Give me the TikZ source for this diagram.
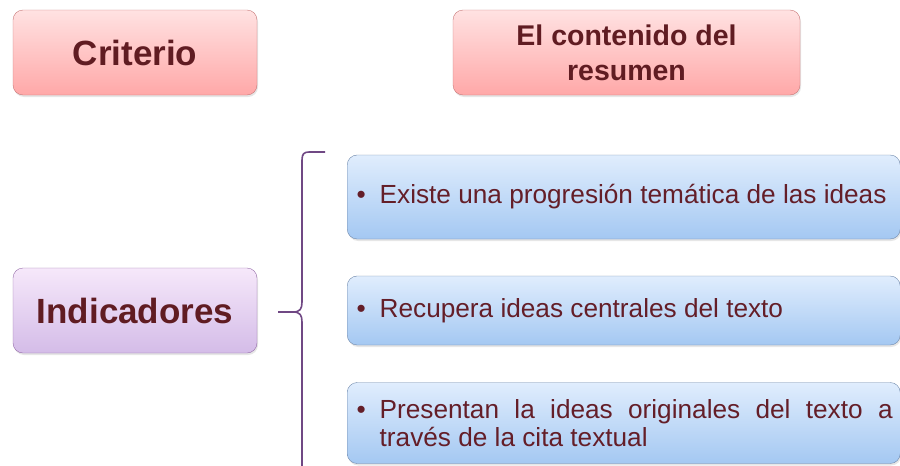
\documentclass[tikz,border=0pt]{standalone}
\usepackage{fontspec}
\setmainfont{Liberation Sans}
\usepackage{xcolor}
\usepackage{tikz}
\usetikzlibrary{shadows}
\definecolor{titletext}{RGB}{96,28,34}
\definecolor{bodytext}{RGB}{100,30,40}
\definecolor{pinktop}{RGB}{255,226,226}
\definecolor{pinkbottom}{RGB}{255,168,168}
\definecolor{pinkedge}{RGB}{200,120,120}
\definecolor{purpletop}{RGB}{246,232,250}
\definecolor{purplebottom}{RGB}{212,188,232}
\definecolor{purpleedge}{RGB}{150,110,170}
\definecolor{bluetop}{RGB}{224,237,253}
\definecolor{bluebottom}{RGB}{164,200,242}
\definecolor{blueedge}{RGB}{110,135,170}
\definecolor{bracecolor}{RGB}{112,72,132}
\tikzstyle{titlebox} = [rectangle, rounded corners=10pt, minimum width=244pt, minimum height=85pt, text centered, text=titletext, drop shadow={opacity=0.2, shadow xshift=1pt, shadow yshift=-2pt}]
\tikzstyle{criteriobox} = [titlebox, draw=pinkedge, top color=pinktop, bottom color=pinkbottom]
\tikzstyle{indicadorbox} = [titlebox, draw=purpleedge, top color=purpletop, bottom color=purplebottom]
\tikzstyle{itembox} = [rectangle, rounded corners=10pt, inner xsep=7.5pt, anchor=west, draw=blueedge, top color=bluetop, bottom color=bluebottom, text=bodytext, font=\fontsize{26.2}{28.5}\selectfont, drop shadow={opacity=0.2, shadow xshift=1pt, shadow yshift=-2pt}]
\tikzstyle{brace} = [line width=1.6pt, draw=bracecolor]
\newcommand{\bulletline}[1]{\makebox[25pt][l]{\hspace{2pt}\textbullet}\parbox[t]{513pt}{#1}}

\begin{document}
\begin{tikzpicture}[x=1pt, y=-1pt]
		\useasboundingbox (0,0) rectangle (900,466);
		\clip (0,0) rectangle (900,466);
		
		% Header nodes
		\node (criterio) [criteriobox, font=\fontsize{35}{42}\selectfont\bfseries] at (135,52.5) {Criterio};
		\node (contenido) [criteriobox, minimum width=347pt, align=center, font=\fontsize{28.5}{35}\selectfont\bfseries] at (626.5,52.5) {El contenido del\\resumen};
		
		% Indicator node
		\node (indicadores) [indicadorbox, font=\fontsize{35}{42}\selectfont\bfseries] at (135,310.5) {Indicadores};
		
		% Item nodes
		\node (progresion) [itembox, minimum height=84pt] at (347,197) {\bulletline{Existe una progresión temática de las ideas}};
		\node (recupera) [itembox, minimum height=69pt] at (347,310.5) {\bulletline{Recupera ideas centrales del texto}};
		\node (presentan) [itembox, minimum height=81pt] at (347,423) {\bulletline{Presentan la ideas originales del texto a\linebreak través de la cita textual}};
		
		% Brace from indicators to items
		\coordinate (bracetop) at (325,152);
		\coordinate (bracetip) at (278,312);
		\coordinate (bracebottom) at (302,475);
		\draw [brace] (bracetop) -- (309,152) .. controls (304,152) and (302,154) .. (302,160) -- (302,302) .. controls (302,309) and (300,312) .. (293,312) -- (bracetip);
		\draw [brace] (bracetip) -- (293,312) .. controls (300,312) and (302,315) .. (302,322) -- (bracebottom);
		
	\end{tikzpicture}
\end{document}
